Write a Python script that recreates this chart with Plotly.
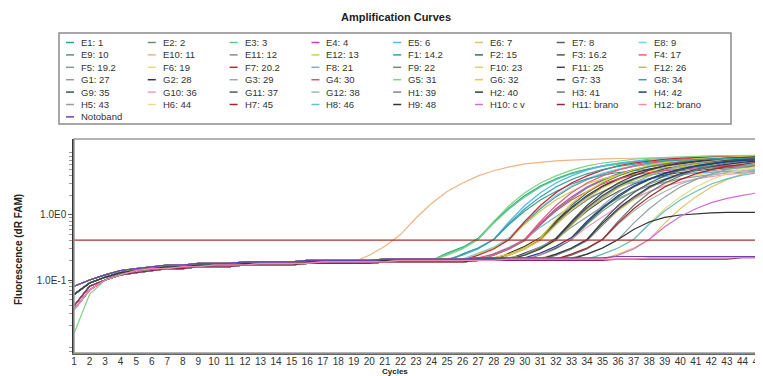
import plotly.graph_objects as go

# ---------------- data ----------------
CYCLES = list(range(1, 46))
X_TICK_LABELS = [str(c) for c in CYCLES]
Y_TICK_VALUES = [1.0, 0.1]
Y_TICK_LABELS = ["1.0E0", "1.0E-1"]
THRESHOLD = 0.41

# baseline shapes (fluorescence per cycle, 45 cycles)
BASE_1 = [.06, .09, .11, .13, .14, .15, .16, .16, .17, .17, .17, .18, .18, .18, .18,
          .19, .19, .19, .19, .19, .20, .20, .20, .20, .20, .20, .21, .21, .21, .21,
          .21, .21, .21, .21, .21, .22, .22, .22, .22, .22, .22, .22, .22, .22, .22]
BASE_2 = [.04, .08, .10, .12, .13, .14, .15, .15, .16, .16, .16, .17, .17, .17, .17,
          .18, .18, .18, .18, .18, .19, .19, .19, .19, .19, .19, .20, .20, .20, .20,
          .20, .20, .20, .20, .20, .21, .21, .21, .21, .21, .21, .21, .21, .22, .22]
BASE_3 = [.08, .10, .12, .14, .15, .16, .17, .17, .18, .18, .18, .19, .19, .19, .19,
          .20, .20, .20, .20, .20, .21, .21, .21, .21, .21, .21, .22, .22, .22, .22,
          .22, .22, .22, .22, .22, .23, .23, .23, .23, .23, .23, .23, .23, .23, .23]
BASE_4 = [.015, .06, .10, .13, .14, .15, .16, .16, .17, .17, .17, .17, .18, .18, .18,
          .18, .19, .19, .19, .19, .19, .20, .20, .20, .20, .20, .20, .21, .21, .21,
          .21, .21, .21, .21, .21, .22, .22, .22, .22, .22, .22, .22, .22, .22, .22]
BASE_5 = [.035, .07, .10, .12, .14, .15, .15, .16, .16, .17, .17, .17, .18, .18, .18,
          .18, .19, .19, .19, .19, .19, .20, .20, .20, .20, .20, .20, .20, .21, .21,
          .21, .21, .21, .21, .21, .21, .21, .22, .22, .22, .22, .22, .22, .22, .22]

SERIES_NAMES = [
    "E1: 1", "E2: 2", "E3: 3", "E4: 4", "E5: 6", "E6: 7", "E7: 8", "E8: 9",
    "E9: 10", "E10: 11", "E11: 12", "E12: 13", "F1: 14.2", "F2: 15", "F3: 16.2", "F4: 17",
    "F5: 19.2", "F6: 19", "F7: 20.2", "F8: 21", "F9: 22", "F10: 23", "F11: 25", "F12: 26",
    "G1: 27", "G2: 28", "G3: 29", "G4: 30", "G5: 31", "G6: 32", "G7: 33", "G8: 34",
    "G9: 35", "G10: 36", "G11: 37", "G12: 38", "H1: 39", "H2: 40", "H3: 41", "H4: 42",
    "H5: 43", "H6: 44", "H7: 45", "H8: 46", "H9: 48", "H10: c v", "H11: brano", "H12: brano",
    "Notoband",
]

SERIES_VALUES = [
    BASE_1[:24] + [.26, .32, .44, .78, 1.3, 2.0, 2.8, 3.6, 4.4, 5.1, 5.7, 6.2, 6.6, 6.9, 7.1, 7.2, 7.3, 7.4, 7.4, 7.5, 7.5],
    BASE_2[:26] + [.25, .31, .42, .75, 1.25, 1.9, 2.7, 3.5, 4.3, 5.0, 5.6, 6.1, 6.5, 6.8, 7.0, 7.2, 7.3, 7.4, 7.5],
    BASE_1[:24] + [.25, .31, .42, .75, 1.25, 1.9, 2.7, 3.5, 4.3, 5.0, 5.6, 6.1, 6.5, 6.8, 7.0, 7.2, 7.3, 7.4, 7.5, 7.5, 7.6],
    BASE_5[:27] + [.25, .31, .42, .75, 1.25, 1.9, 2.7, 3.5, 4.3, 5.0, 5.6, 6.1, 6.5, 6.8, 7.0, 7.2, 7.3, 7.4],
    BASE_3[:25] + [.24, .30, .42, .8, 1.4, 2.2, 3.1, 4.0, 4.9, 5.7, 6.3, 6.8, 7.2, 7.5, 7.7, 7.9, 8.0, 8.1, 8.2, 8.2],
    BASE_1[:35] + [.25, .31, .42, .75, 1.25, 1.9, 2.7, 3.5, 4.3, 5.0],
    BASE_2[:28] + [.25, .31, .42, .75, 1.25, 1.9, 2.7, 3.5, 4.3, 5.0, 5.6, 6.1, 6.5, 6.8, 7.0, 7.2, 7.3],
    BASE_3[:26] + [.26, .32, .45, .8, 1.3, 2.0, 2.8, 3.6, 4.4, 5.1, 5.7, 6.2, 6.6, 6.9, 7.1, 7.2, 7.3, 7.4, 7.4],
    BASE_1[:27] + [.24, .30, .40, .7, 1.2, 1.8, 2.6, 3.4, 4.2, 4.9, 5.5, 6.0, 6.4, 6.7, 6.9, 7.1, 7.2, 7.3],
    BASE_1[:19] + [.24, .33, .5, .9, 1.5, 2.3, 3.1, 4.0, 4.8, 5.5, 6.1, 6.5, 6.8, 7.0, 7.2, 7.3, 7.4, 7.5, 7.5, 7.6, 7.6, 7.7, 7.7, 7.7, 7.8, 7.8],
    BASE_3[:29] + [.25, .31, .42, .75, 1.25, 1.9, 2.7, 3.5, 4.3, 5.0, 5.6, 6.1, 6.5, 6.8, 7.0, 7.2],
    BASE_1[:26] + [.25, .31, .42, .72, 1.15, 1.7, 2.3, 3.0, 3.6, 4.1, 4.5, 4.8, 5.1, 5.3, 5.5, 5.6, 5.7, 5.8, 5.8],
    BASE_2[:25] + [.25, .31, .42, .72, 1.15, 1.7, 2.3, 3.0, 3.6, 4.1, 4.5, 4.8, 5.1, 5.3, 5.5, 5.6, 5.7, 5.8, 5.8, 5.9],
    BASE_1[:28] + [.24, .30, .42, .8, 1.4, 2.2, 3.1, 4.0, 4.9, 5.7, 6.3, 6.8, 7.2, 7.5, 7.7, 7.9, 8.0],
    BASE_2[:29] + [.25, .31, .42, .72, 1.15, 1.7, 2.3, 3.0, 3.6, 4.1, 4.5, 4.8, 5.1, 5.3, 5.5, 5.6],
    BASE_5[:27] + [.24, .30, .42, .8, 1.4, 2.2, 3.1, 4.0, 4.9, 5.7, 6.3, 6.8, 7.2, 7.5, 7.7, 7.9, 8.0, 8.1],
    BASE_1[:30] + [.25, .31, .42, .72, 1.15, 1.7, 2.3, 3.0, 3.6, 4.1, 4.5, 4.8, 5.1, 5.3, 5.5],
    BASE_3[:31] + [.25, .31, .42, .72, 1.15, 1.7, 2.3, 3.0, 3.6, 4.1, 4.5, 4.8, 5.1, 5.3],
    BASE_5[:26] + [.24, .30, .42, .8, 1.4, 2.2, 3.1, 4.0, 4.9, 5.7, 6.3, 6.8, 7.2, 7.5, 7.7, 7.9, 8.0, 8.1, 8.2],
    BASE_2[:27] + [.25, .32, .42, .65, .95, 1.35, 1.8, 2.3, 2.8, 3.2, 3.6, 3.9, 4.2, 4.4, 4.6, 4.7, 4.8, 4.9],
    BASE_3[:28] + [.25, .31, .42, .72, 1.15, 1.7, 2.3, 3.0, 3.6, 4.1, 4.5, 4.8, 5.1, 5.3, 5.5, 5.6, 5.7],
    BASE_1[:28] + [.24, .30, .40, .7, 1.2, 1.8, 2.6, 3.4, 4.2, 4.9, 5.5, 6.0, 6.4, 6.7, 6.9, 7.1, 7.2],
    BASE_1[:29] + [.26, .32, .44, .78, 1.3, 2.0, 2.8, 3.6, 4.4, 5.1, 5.7, 6.2, 6.6, 6.9, 7.1, 7.2],
    BASE_3[:29] + [.24, .30, .40, .7, 1.2, 1.8, 2.6, 3.4, 4.2, 4.9, 5.5, 6.0, 6.4, 6.7, 6.9, 7.1],
    BASE_2[:29] + [.25, .32, .42, .65, .95, 1.35, 1.8, 2.3, 2.8, 3.2, 3.6, 3.9, 4.2, 4.4, 4.6, 4.7],
    BASE_2[:28] + [.26, .33, .45, .8, 1.3, 2.0, 2.8, 3.6, 4.4, 5.1, 5.7, 6.2, 6.6, 6.9, 7.1, 7.2, 7.3],
    BASE_3[:30] + [.24, .30, .42, .8, 1.4, 2.2, 3.1, 4.0, 4.9, 5.7, 6.3, 6.8, 7.2, 7.5, 7.7],
    BASE_3[:27] + [.25, .31, .42, .72, 1.15, 1.7, 2.3, 3.0, 3.6, 4.1, 4.5, 4.8, 5.1, 5.3, 5.5, 5.6, 5.7, 5.8],
    BASE_4[:24] + [.24, .30, .42, .8, 1.4, 2.2, 3.1, 4.0, 4.9, 5.7, 6.3, 6.8, 7.2, 7.5, 7.7, 7.9, 8.0, 8.1, 8.2, 8.2, 8.3],
    BASE_3[:28] + [.25, .31, .44, .85, 1.5, 2.3, 3.2, 4.1, 5.0, 5.8, 6.4, 6.9, 7.3, 7.6, 7.8, 8.0, 8.1],
    BASE_1[:29] + [.24, .30, .42, .8, 1.4, 2.2, 3.1, 4.0, 4.9, 5.7, 6.3, 6.8, 7.2, 7.5, 7.7, 7.9],
    BASE_1[:25] + [.25, .31, .42, .75, 1.25, 1.9, 2.7, 3.5, 4.3, 5.0, 5.6, 6.1, 6.5, 6.8, 7.0, 7.2, 7.3, 7.4, 7.5, 7.5],
    BASE_2[:30] + [.25, .31, .42, .75, 1.25, 1.9, 2.7, 3.5, 4.3, 5.0, 5.6, 6.1, 6.5, 6.8, 7.0],
    BASE_5[:30] + [.25, .32, .42, .65, .95, 1.35, 1.8, 2.3, 2.8, 3.2, 3.6, 3.9, 4.2, 4.4, 4.6],
    BASE_1[:31] + [.24, .30, .42, .8, 1.4, 2.2, 3.1, 4.0, 4.9, 5.7, 6.3, 6.8, 7.2, 7.5],
    BASE_2[:32] + [.25, .31, .42, .72, 1.15, 1.7, 2.3, 3.0, 3.6, 4.1, 4.5, 4.8, 5.1],
    BASE_2[:31] + [.24, .30, .40, .7, 1.2, 1.8, 2.6, 3.4, 4.2, 4.9, 5.5, 6.0, 6.4, 6.7],
    BASE_1[:31] + [.25, .31, .42, .75, 1.25, 1.9, 2.7, 3.5, 4.3, 5.0, 5.6, 6.1, 6.5, 6.8],
    BASE_1[:32] + [.24, .30, .42, .8, 1.4, 2.2, 3.1, 4.0, 4.9, 5.7, 6.3, 6.8, 7.2],
    BASE_3[:30] + [.26, .33, .45, .8, 1.3, 2.0, 2.8, 3.6, 4.4, 5.1, 5.7, 6.2, 6.6, 6.9, 7.1],
    BASE_3[:33] + [.25, .31, .42, .75, 1.25, 1.9, 2.7, 3.5, 4.3, 5.0, 5.6, 6.1],
    BASE_2[:34] + [.25, .31, .42, .75, 1.25, 1.9, 2.7, 3.5, 4.3, 5.0, 5.6],
    BASE_5[:32] + [.25, .31, .42, .75, 1.25, 1.9, 2.7, 3.5, 4.3, 5.0, 5.6, 6.1, 6.5],
    BASE_1[:34] + [.25, .31, .42, .72, 1.15, 1.7, 2.3, 3.0, 3.6, 4.1, 4.5],
    BASE_1[:33] + [.25, .31, .42, .6, .78, .92, 1.0, 1.05, 1.08, 1.1, 1.1, 1.1],
    BASE_5[:35] + [.24, .30, .42, .66, .95, 1.25, 1.55, 1.8, 2.0, 2.2],
    BASE_2,
    BASE_5,
    BASE_3,
]

SERIES_COLORS = [
    "#2ca58d", "#6b8e6b", "#5cc98c", "#c43cc4", "#4fb8ef", "#e2c46a", "#4d6659", "#78cfee",
    "#5f8f7f", "#eeb488", "#8c8c8c", "#c2d25e", "#3a9f9f", "#2f6f6f", "#555555", "#e0607a",
    "#7f9f8f", "#eadb7e", "#d02030", "#6fb2ea", "#6f8f6f", "#e6cc62", "#3f3f5f", "#b4c64a",
    "#8f9f9f", "#4a2f2f", "#97a9a9", "#e05070", "#7fd47f", "#e6cc34", "#404040", "#38a0a0",
    "#2f5f3f", "#ee9cbe", "#505a60", "#aab4b4", "#7a8a8a", "#303848", "#6a7a7a", "#203c8c",
    "#90a0a0", "#e8dc8c", "#a02828", "#68c0c0", "#333333", "#d070d0", "#8a2060", "#f08cb0",
    "#7040b0",
]

# ---------------- layout geometry ----------------
# the page body adds an 8px offset, so figure pixels = target pixels - 8
OFF = 8
W, H = 763, 376
PL, PR, PT, PB = 74 - OFF, 758 - OFF, 139 - OFF, 353 - OFF
FONT = "Liberation Sans, Arial, sans-serif"


def fx(xpix):
    """target-picture x pixel -> paper x"""
    return (xpix - OFF - PL) / (PR - PL)


def fy(ypix):
    """target-picture y pixel -> paper y"""
    return (PB - (ypix - OFF)) / (PB - PT)


fig = go.Figure()
for name, vals, col in zip(SERIES_NAMES, SERIES_VALUES, SERIES_COLORS):
    fig.add_trace(go.Scatter(x=CYCLES[:len(vals)], y=vals, mode="lines", name=name,
                             line=dict(color=col, width=1.2), showlegend=False))

fig.add_trace(go.Scatter(x=[CYCLES[0], CYCLES[-1]], y=[THRESHOLD, THRESHOLD], mode="lines",
                         name="Threshold", line=dict(color="#a8302c", width=1.3),
                         showlegend=False))

shapes = []
annotations = []

# plot frame
shapes.append(dict(type="rect", xref="paper", yref="paper", x0=0, x1=1, y0=0, y1=1,
                   line=dict(color="#9a9a9a", width=1.5), layer="above"))
# legend box
shapes.append(dict(type="rect", xref="paper", yref="paper", x0=fx(59), x1=fx(731),
                   y0=fy(124), y1=fy(33), line=dict(color="#8c8c8c", width=1.5)))

COL_PITCH = 81.8
ROW_PITCH = 12.4
for i, (name, col) in enumerate(zip(SERIES_NAMES, SERIES_COLORS)):
    r, c = divmod(i, 8)
    yy = 42.5 + ROW_PITCH * r
    x0 = 66 + COL_PITCH * c
    shapes.append(dict(type="line", xref="paper", yref="paper", x0=fx(x0), x1=fx(x0 + 8),
                       y0=fy(yy), y1=fy(yy), line=dict(color=col, width=1.5)))
    annotations.append(dict(text=name, xref="paper", yref="paper", x=fx(x0 + 13), y=fy(yy),
                            xanchor="left", yanchor="middle", showarrow=False,
                            font=dict(family=FONT, size=9.5, color="#333333")))

annotations.append(dict(text="<b>Fluorescence (dR FAM)</b>", xref="paper", yref="paper",
                        x=fx(18), y=fy(250), textangle=-90, showarrow=False,
                        xanchor="center", yanchor="middle",
                        font=dict(family=FONT, size=10, color="#222222")))
annotations.append(dict(text="<b>Cycles</b>", xref="paper", yref="paper",
                        x=fx(395), y=fy(371), showarrow=False,
                        xanchor="center", yanchor="middle",
                        font=dict(family=FONT, size=8, color="#222222")))

minor_vals = [m * 10 ** e for e in (-3, -2, -1, 0, 1) for m in range(2, 10)]

fig.update_layout(
    width=W, height=H,
    margin=dict(l=PL, r=W - PR, t=PT, b=H - PB, autoexpand=False),
    paper_bgcolor="white", plot_bgcolor="white",
    title=dict(text="<b>Amplification Curves</b>", x=(396 - OFF) / W,
               xanchor="center", y=1 - (17 - OFF) / H, yanchor="middle",
               font=dict(family=FONT, size=11, color="#222222")),
    xaxis=dict(range=[1, 45], tickvals=CYCLES, ticktext=X_TICK_LABELS, showgrid=False,
               zeroline=False, showline=True, linecolor="#666666", linewidth=1.5,
               ticks="", ticklabelstandoff=-2,
               tickfont=dict(family=FONT, size=10, color="#333333")),
    yaxis=dict(type="log", range=[-2.123, 1.169], tickvals=Y_TICK_VALUES,
               ticktext=Y_TICK_LABELS, showgrid=False, zeroline=False, showline=True,
               linecolor="#333333", linewidth=1.5, ticks="outside", ticklen=4,
               tickcolor="#555555",
               tickfont=dict(family=FONT, size=10, color="#333333"),
               minor=dict(tickvals=minor_vals, ticks="outside", ticklen=3,
                          tickcolor="#999999", showgrid=False)),
    shapes=shapes,
    annotations=annotations,
)

fig.write_html("out.html")
